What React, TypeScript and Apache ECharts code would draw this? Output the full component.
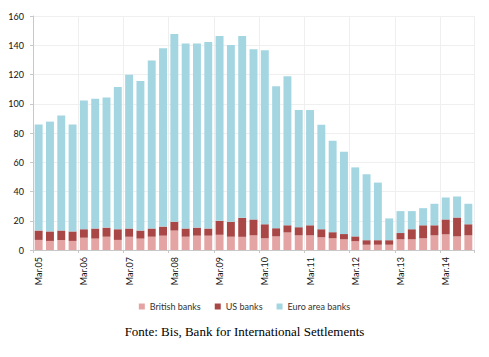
import React, { useEffect, useRef } from "react";
import * as echarts from "echarts";

const years = ["05", "06", "07", "08", "09", "10", "11", "12", "13", "14"];
const quarters = ["Mar", "Jun", "Sep", "Dec"];
const categories: string[] = [];
years.forEach((y) => quarters.forEach((q) => categories.push(q + "." + y)));
categories.splice(39); // Mar.05 .. Sep.14

const britishBanks = [6.9, 6.2, 6.9, 6.2, 8.4, 7.8, 9.1, 6.9, 9.1, 7.8, 9.1, 9.8, 13.3, 9.1, 9.8, 9.8, 10.4, 9.1, 9.0, 10.0, 8.0, 9.3, 12.0, 10.0, 10.0, 8.7, 8.0, 7.3, 6.0, 3.6, 3.6, 3.6, 7.3, 7.3, 8.0, 10.0, 10.7, 9.3, 10.0];
const usBanks = [6.4, 6.5, 6.4, 6.5, 5.8, 6.9, 6.2, 7.3, 5.6, 5.5, 5.6, 6.2, 6.0, 5.6, 5.5, 4.9, 9.6, 10.2, 13.0, 10.9, 9.6, 5.6, 4.9, 5.6, 6.9, 5.5, 4.2, 3.6, 3.3, 3.1, 3.1, 3.1, 4.3, 6.9, 8.9, 6.9, 10.2, 12.9, 7.6];
const euroAreaBanks = [72.5, 75.1, 78.6, 73.1, 88.1, 88.7, 89.0, 97.3, 105.1, 102.2, 114.8, 122.0, 128.4, 126.5, 125.9, 127.6, 126.3, 120.9, 124.3, 116.4, 119.0, 97.1, 101.9, 80.1, 78.8, 71.5, 62.5, 56.3, 47.2, 45.1, 39.4, 14.9, 15.0, 12.4, 11.7, 14.7, 15.0, 14.4, 14.0];

const caption = "Fonte: Bis, Bank for International Settlements";

export default function App() {
  const ref = useRef<HTMLDivElement>(null);
  useEffect(() => {
    if (!ref.current) return;
    const chart = echarts.init(ref.current, null, { renderer: "svg" });
    const font = "Lato, 'DejaVu Sans', sans-serif";
    chart.setOption({
      animation: false,
      backgroundColor: "#ffffff",
      textStyle: { fontFamily: font },
      grid: { left: 33, right: 15, top: 16, bottom: 107, containLabel: false },
      legend: {
        top: 297,
        left: "center",
        icon: "rect",
        itemWidth: 6,
        itemHeight: 6,
        itemGap: 14,
        textStyle: { fontSize: 9, color: "#333", fontFamily: font },
        data: ["British banks", "US banks", "Euro area banks"],
      },
      xAxis: {
        type: "category",
        data: categories,
        boundaryGap: true,
        axisLine: { show: true, lineStyle: { color: "#c8c8c8", width: 1 } },
        axisTick: { show: true, interval: 3, length: 3, lineStyle: { color: "#c8c8c8" } },
        axisLabel: {
          interval: 3,
          rotate: 90,
          fontSize: 9,
          color: "#111",
          margin: 7,
          fontFamily: font,
        },
        splitLine: { show: true, interval: 3, lineStyle: { color: "#efefef", width: 1 } },
      },
      yAxis: {
        type: "value",
        min: 0,
        max: 160,
        interval: 20,
        axisLine: { show: true, lineStyle: { color: "#c8c8c8", width: 1 } },
        axisTick: { show: true, length: 3, lineStyle: { color: "#c8c8c8" } },
        axisLabel: { fontSize: 9, color: "#111", margin: 9, fontFamily: font },
        splitLine: { show: true, lineStyle: { color: "#efefef", width: 1 } },
      },
      series: [
        {
          name: "British banks",
          type: "bar",
          stack: "total",
          data: britishBanks,
          barCategoryGap: "30%",
          itemStyle: { color: "#e5a4a4" },
        },
        {
          name: "US banks",
          type: "bar",
          stack: "total",
          data: usBanks,
          itemStyle: { color: "#a94646" },
        },
        {
          name: "Euro area banks",
          type: "bar",
          stack: "total",
          data: euroAreaBanks,
          itemStyle: { color: "#a4d6e1" },
        },
      ],
      graphic: [
        {
          type: "text",
          left: "center",
          top: 325,
          style: {
            text: caption,
            fontFamily: "'Liberation Serif', 'Times New Roman', serif",
            fontSize: 13,
            fill: "#000",
          },
        },
      ],
    });
    return () => chart.dispose();
  }, []);
  return (
    <div
      ref={ref}
      style={{ position: "fixed", left: 0, top: 0, width: 489, height: 357 }}
    />
  );
}
